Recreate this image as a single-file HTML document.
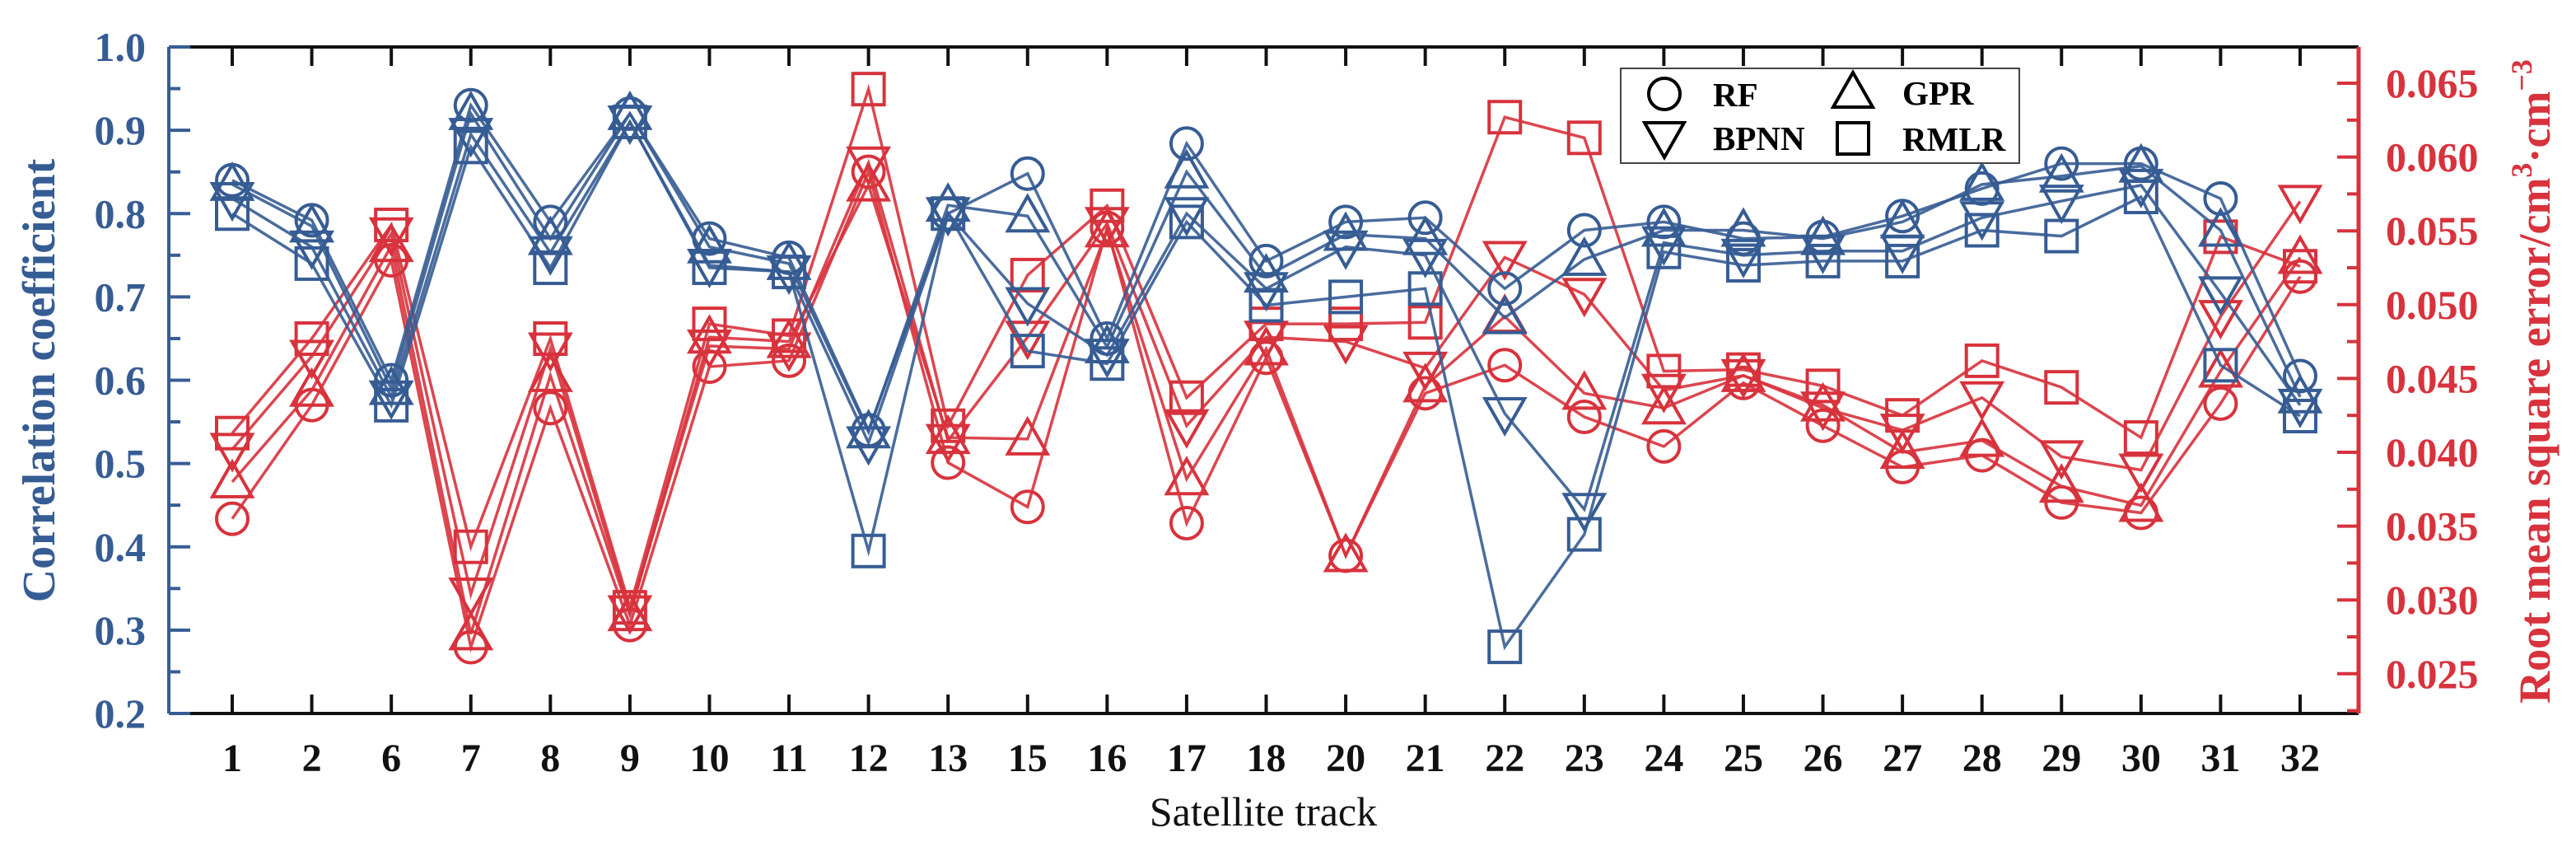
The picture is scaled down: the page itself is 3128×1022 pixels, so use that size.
<!DOCTYPE html>
<html><head><meta charset="utf-8"><style>
html,body{margin:0;padding:0;background:#fff;}
svg{display:block;font-family:"Liberation Serif",serif;}
</style></head><body>
<svg id="chart" width="3128" height="1022" viewBox="0 0 3128 1022" xmlns="http://www.w3.org/2000/svg">
<g id="root"></g>
</svg>
<script>
const categories=["1","2","6","7","8","9","10","11","12","13","15","16","17","18","20","21","22","23","24","25","26","27","28","29","30","31","32"];
const ccRF  =[0.84,0.792,0.60,0.93,0.79,0.92,0.77,0.747,0.54,0.80,0.848,0.65,0.884,0.743,0.79,0.795,0.71,0.78,0.79,0.77,0.772,0.797,0.83,0.86,0.86,0.818,0.605];
const ccBP  =[0.818,0.76,0.58,0.895,0.753,0.91,0.738,0.73,0.525,0.80,0.692,0.63,0.80,0.71,0.76,0.75,0.56,0.445,0.765,0.75,0.755,0.755,0.795,0.815,0.834,0.705,0.57];
const ccGPR =[0.835,0.785,0.59,0.92,0.77,0.92,0.76,0.74,0.538,0.81,0.797,0.64,0.85,0.725,0.775,0.77,0.675,0.745,0.78,0.78,0.77,0.79,0.835,0.845,0.857,0.78,0.58];
const ccRM  =[0.80,0.74,0.57,0.88,0.735,0.91,0.735,0.73,0.395,0.80,0.635,0.62,0.79,0.69,0.70,0.71,0.28,0.415,0.754,0.738,0.743,0.743,0.78,0.773,0.82,0.618,0.557];
const rmRF  =[0.0355,0.0432,0.0530,0.0268,0.0430,0.0283,0.0458,0.0462,0.0590,0.0393,0.0363,0.0552,0.0352,0.0464,0.0330,0.0440,0.0459,0.0424,0.0404,0.0447,0.0418,0.0390,0.0398,0.0366,0.0359,0.0433,0.0519];
const rmBP  =[0.0402,0.0465,0.0548,0.0304,0.0470,0.0292,0.0472,0.0470,0.0596,0.0408,0.0478,0.0555,0.0418,0.0478,0.0475,0.0457,0.0532,0.0507,0.0442,0.0452,0.0430,0.0415,0.0437,0.0397,0.0388,0.0492,0.0570];
const rmGPR =[0.0380,0.0442,0.0540,0.0277,0.0452,0.0290,0.0478,0.0475,0.0581,0.0410,0.0409,0.0550,0.0382,0.0470,0.0330,0.0445,0.0492,0.0440,0.0430,0.0452,0.0432,0.0400,0.0408,0.0377,0.0364,0.0455,0.0532];
const rmRM  =[0.0413,0.0477,0.0554,0.0336,0.0477,0.0295,0.0487,0.0479,0.0646,0.0418,0.0520,0.0567,0.0437,0.0487,0.0487,0.0488,0.0627,0.0613,0.0455,0.0456,0.0445,0.0425,0.0462,0.0444,0.0410,0.0546,0.0526];
const ccTicks=[0.2,0.3,0.4,0.5,0.6,0.7,0.8,0.9,1.0];
const rmTicks=[0.025,0.030,0.035,0.040,0.045,0.050,0.055,0.060,0.065];

const NS="http://www.w3.org/2000/svg";
const root=document.getElementById('root');
const L=205,R=2864,T=57,B=866;
const BLUE="#365c94",RED="#d8323c";
function xS(i){return 282+i*(2793-282)/(categories.length-1);}
function yL(v){return B-(v-0.2)/(1.0-0.2)*(B-T);}
function yR(v){return 101+(0.065-v)/0.005*89.6;}
function mk(tag,attrs,parent){const e=document.createElementNS(NS,tag);for(const k in attrs)e.setAttribute(k,attrs[k]);(parent||root).appendChild(e);return e;}

let e;
e=mk('line',{x1:L,y1:T,x2:R,y2:T,stroke:'#111','stroke-width':4});


e=mk('line',{x1:L,y1:B,x2:R,y2:B,stroke:'#111','stroke-width':4});


e=mk('line',{x1:L,y1:T,x2:L,y2:B,stroke:BLUE,'stroke-width':4});


e=mk('line',{x1:R,y1:T,x2:R,y2:B,stroke:RED,'stroke-width':5});



categories.forEach((c,i)=>{
  const x=xS(i);
  mk('line',{x1:x,y1:T,x2:x,y2:T+23,stroke:'#111','stroke-width':4});
  mk('line',{x1:x,y1:B,x2:x,y2:B-23,stroke:'#111','stroke-width':4});
  const t=mk('text',{x:x,y:936,'text-anchor':'middle','font-size':48,'font-weight':'bold',fill:'#111'});
  t.textContent=c;
  
  
});
ccTicks.forEach((v,i)=>{
  const y=yL(v);
  mk('line',{x1:L,y1:y,x2:L+26,y2:y,stroke:BLUE,'stroke-width':4});
  if(i<ccTicks.length-1){const ym=yL(v+0.05);mk('line',{x1:L,y1:ym,x2:L+14,y2:ym,stroke:BLUE,'stroke-width':4});}
  const t=mk('text',{x:177,y:y+17,'text-anchor':'end','font-size':50,'font-weight':'bold',fill:BLUE});
  t.textContent=v.toFixed(1);
  
  
});
for(let v=0.0200;v<=0.0676;v+=0.0025){
  const y=yR(v); if(y<T||y>B)continue;
  const major=Math.abs(v/0.005-Math.round(v/0.005))<0.01;
  mk('line',{x1:R,y1:y,x2:R-(major?26:14),y2:y,stroke:RED,'stroke-width':4});
}
rmTicks.forEach(v=>{
  const t=mk('text',{x:2897,y:yR(v)+17,'text-anchor':'start','font-size':50,'font-weight':'bold',fill:RED});
  t.textContent=v.toFixed(3);
  
  
});

e=mk('text',{x:0,y:0,transform:'translate(66,462) rotate(-90)','text-anchor':'middle','font-size':56,'font-weight':'bold',fill:BLUE});
e.textContent='Correlation coefficient';


e=mk('text',{x:0,y:0,transform:'translate(3096,463) rotate(-90)','text-anchor':'middle','font-size':54,'font-weight':'bold',fill:RED});
e.innerHTML='Root mean square error/cm<tspan dy="-22" font-size="36">3</tspan><tspan dy="22">·cm</tspan><tspan dy="-22" font-size="36">−3</tspan>';


e=mk('text',{x:1534,y:1002,'text-anchor':'middle','font-size':50,fill:'#111'});
e.textContent='Satellite track';



function marker(g,shape,x,y,color){
  const r=19;
  const a={fill:'none',stroke:color,'stroke-width':4};
  let m;
  if(shape==='circle') m=mk('circle',Object.assign({cx:x,cy:y,r:r},a),g);
  else if(shape==='up') m=mk('polygon',Object.assign({points:`${x},${y-r-5} ${x-r-5},${y+r-1} ${x+r+5},${y+r-1}`},a),g);
  else if(shape==='down') m=mk('polygon',Object.assign({points:`${x},${y+r+5} ${x-r-5},${y-r+1} ${x+r+5},${y-r+1}`},a),g);
  else m=mk('rect',Object.assign({x:x-r,y:y-r,width:2*r,height:2*r},a),g);
  return m;
}
function series(vals,yf,color,shape,name){
  const g=mk('g',{});
  
  
  const pts=vals.map((v,i)=>xS(i)+','+yf(v)).join(' ');
  mk('polyline',{points:pts,fill:'none',stroke:color,'stroke-width':3.5,'stroke-opacity':0.9},g);
  vals.forEach((v,i)=>{
    const m=marker(g,shape,xS(i),yf(v),color);
    
    
  });
}
series(rmRF,yR,RED,'circle','rmse-rf-series');
series(rmGPR,yR,RED,'up','rmse-gpr-series');
series(rmBP,yR,RED,'down','rmse-bpnn-series');
series(rmRM,yR,RED,'square','rmse-rmlr-series');
series(ccRF,yL,BLUE,'circle','cc-rf-series');
series(ccGPR,yL,BLUE,'up','cc-gpr-series');
series(ccBP,yL,BLUE,'down','cc-bpnn-series');
series(ccRM,yL,BLUE,'square','cc-rmlr-series');

const lg=mk('g',{});


mk('rect',{x:1968,y:83,width:484,height:115,fill:'#fff',stroke:'#444','stroke-width':2},lg);
const entries=[['circle',2021,114,'RF',2080],['up',2250,112,'GPR',2310],['down',2021,167,'BPNN',2080],['square',2250,168,'RMLR',2310]];
entries.forEach(en=>{
  const eg=mk('g',{},lg);
  
  
  marker(eg,en[0],en[1],en[2],'#000');
  const t=mk('text',{x:en[4],y:en[2]+15,'font-size':41,'font-weight':'bold',fill:'#000'},eg);
  t.textContent=en[3];
});
</script>
</body></html>
